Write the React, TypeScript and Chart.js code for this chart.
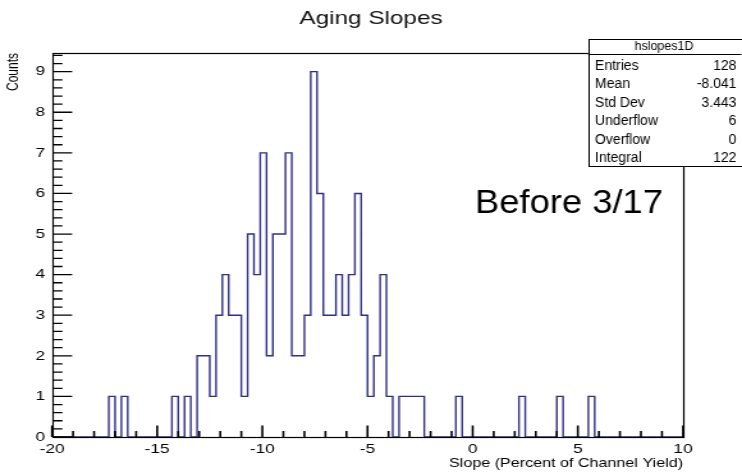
import React, { useEffect, useRef } from "react";
import { Chart, registerables } from "chart.js";

Chart.register(...registerables);

// ---- data ----
const X_MIN = -20;
const X_MAX = 10;
const BIN_WIDTH = 0.3;
// 100 bins of 0.3 from -20 to 10
const binCounts = [
  0, 0, 0, 0, 0, 0, 0, 0, 0, 1,
  0, 1, 0, 0, 0, 0, 0, 0, 0, 1,
  0, 1, 0, 2, 2, 1, 3, 4, 3, 3,
  1, 5, 4, 7, 2, 5, 5, 7, 2, 2,
  3, 9, 6, 3, 3, 4, 3, 4, 6, 3,
  1, 2, 4, 1, 0, 1, 1, 1, 1, 0,
  0, 0, 0, 0, 1, 0, 0, 0, 0, 0,
  0, 0, 0, 0, 1, 0, 0, 0, 0, 0,
  1, 0, 0, 0, 0, 1, 0, 0, 0, 0,
  0, 0, 0, 0, 0, 0, 0, 0, 0, 0,
];
const Y_MAX = 9.46;
const X_LABEL_STEP = 5;
const X_MINOR_STEP = 1;
const Y_LABEL_STEP = 1;
const Y_MINOR_STEP = 0.2;
const chartTitle = "Aging Slopes";
const xTitle = "Slope (Percent of Channel Yield)";
const yTitle = "Counts";
const annotation = "Before 3/17";
const statsTitle = "hslopes1D";
const statsLabels = ["Entries", "Mean", "Std Dev", "Underflow", "Overflow", "Integral"];
const statsValues = ["128", "-8.041", "3.443", "6", "0", "122"];

// ---- presentation ----
const FONT = "'Liberation Sans', Arial, Helvetica, sans-serif";
const CSS_W = 742;
const CSS_H = 472;
const BMP_W = 580;
const S = CSS_W / BMP_W; // horizontal stretch of the original ROOT picture
const LINE_COLOR = "#2f2f88";
const X_MAJOR_LEN = 11.5;
const X_MINOR_LEN = 6;
const Y_MAJOR_LEN = 15.4;
const Y_MINOR_LEN = 7.8;

const isMultiple = (v: number, step: number) => Math.abs(v / step - Math.round(v / step)) < 1e-6;

function drawText(
  ctx: CanvasRenderingContext2D,
  text: string,
  xCss: number,
  y: number,
  font: string,
  align: CanvasTextAlign,
  baseline: CanvasTextBaseline,
  cssScaleX: number
) {
  ctx.save();
  ctx.translate(xCss / S, y);
  ctx.scale(cssScaleX / S, 1);
  ctx.font = font;
  ctx.textAlign = align;
  ctx.textBaseline = baseline;
  ctx.fillStyle = "#000";
  ctx.fillText(text, 0, 0);
  ctx.restore();
}

const rootDecor = {
  id: "rootDecor",
  afterDraw(chart: any) {
    const ctx: CanvasRenderingContext2D = chart.ctx;
    const a = chart.chartArea;
    const xs = chart.scales.x;
    const ys = chart.scales.y;
    const L = Math.round(a.left);
    const R = Math.round(a.right);
    const T = Math.round(a.top);
    const B = Math.round(a.bottom);
    ctx.save();
    ctx.setLineDash([]);
    ctx.strokeStyle = "#000";

    // inner tick marks, positioned by the scales
    ctx.lineWidth = 1.6;
    ctx.beginPath();
    const nx = Math.round((X_MAX - X_MIN) / X_MINOR_STEP);
    for (let i = 0; i <= nx; i++) {
      const v = X_MIN + i * X_MINOR_STEP;
      const px = xs.getPixelForValue(v);
      const len = isMultiple(v, X_LABEL_STEP) ? X_MAJOR_LEN : X_MINOR_LEN;
      ctx.moveTo(px, B);
      ctx.lineTo(px, B - len);
    }
    ctx.stroke();
    ctx.lineWidth = 1.3;
    ctx.beginPath();
    const ny = Math.floor(Y_MAX / Y_MINOR_STEP + 1e-6);
    for (let i = 0; i <= ny; i++) {
      const v = i * Y_MINOR_STEP;
      const py = ys.getPixelForValue(v);
      const len = isMultiple(v, Y_LABEL_STEP) ? Y_MAJOR_LEN : Y_MINOR_LEN;
      ctx.moveTo(L, py);
      ctx.lineTo(L + len, py);
    }
    ctx.stroke();

    ctx.lineWidth = 1.2;
    ctx.strokeRect(L + 0.5, T + 0.5, R - L, B - T);

    // stats box
    const bx0 = 588.3 / S;
    const bx1 = 741.4 / S;
    const by0 = 39.5;
    const by1 = 166.5;
    ctx.fillStyle = "#fff";
    ctx.fillRect(bx0, by0, bx1 - bx0, by1 - by0);
    ctx.lineWidth = 1;
    ctx.strokeRect(Math.round(bx0) + 0.5, by0, Math.round(bx1) - Math.round(bx0), by1 - by0);
    ctx.beginPath();
    ctx.moveTo(bx0, 54.5);
    ctx.lineTo(bx1, 54.5);
    ctx.stroke();
    ctx.restore();

    drawText(ctx, statsTitle, 664, 47, `12.5px ${FONT}`, "center", "middle", 1);
    statsLabels.forEach((lab, i) => {
      const yy = 65.8 + i * 18.5;
      drawText(ctx, lab, 595, yy, `14px ${FONT}`, "left", "middle", 1);
      drawText(ctx, statsValues[i], 736.5, yy, `14px ${FONT}`, "right", "middle", 1);
    });

    drawText(ctx, annotation, 475, 213.3, `34px ${FONT}`, "left", "alphabetic", 1.069);
  },
};

export default function App() {
  const ref = useRef<HTMLCanvasElement | null>(null);

  useEffect(() => {
    document.body.style.margin = "0";
    const canvas = ref.current;
    if (!canvas) return;
    const histPoints = binCounts.map((c, i) => ({ x: X_MIN + i * BIN_WIDTH, y: c }));
    histPoints.push({ x: X_MAX, y: binCounts[binCounts.length - 1] });

    const chart = new Chart(canvas, {
      type: "line",
      data: {
        datasets: [
          {
            data: histPoints,
            stepped: "before",
            borderColor: LINE_COLOR,
            borderWidth: 1.4,
            pointRadius: 0,
            fill: false,
            tension: 0,
          } as any,
        ],
      },
      options: {
        responsive: false,
        animation: false,
        devicePixelRatio: 1,
        layout: { padding: 0 },
        events: [],
        plugins: {
          legend: { display: false },
          tooltip: { enabled: false },
          title: {
            display: true,
            text: chartTitle,
            color: "#111",
            font: { family: FONT, size: 19, weight: "normal" as any },
            padding: { top: 7.3, bottom: 22.9 },
          },
        },
        scales: {
          x: {
            type: "linear",
            position: "bottom",
            min: X_MIN,
            max: X_MAX,
            grid: { display: false, drawTicks: false },
            border: { display: false },
            ticks: {
              stepSize: X_LABEL_STEP,
              autoSkip: false,
              maxRotation: 0,
              minRotation: 0,
              padding: 4.2,
              color: "#000",
              font: { family: FONT, size: 13.5 },
              callback: (v: any) => String(v),
            },
            title: {
              display: true,
              text: xTitle,
              align: "end",
              color: "#000",
              font: { family: FONT, size: 12.6 },
              padding: { top: 0, bottom: 0.5 },
            },
            afterFit: (s: any) => {
              s.height = CSS_H - 437;
            },
          },
          y: {
            type: "linear",
            position: "left",
            min: 0,
            max: Y_MAX,
            grid: { display: false, drawTicks: false },
            border: { display: false },
            ticks: {
              stepSize: Y_LABEL_STEP,
              includeBounds: false,
              padding: 5.5,
              color: "#000",
              font: { family: FONT, size: 13.5 },
              callback: (v: any) => (Number.isInteger(v) ? String(v) : ""),
            },
            title: {
              display: true,
              text: yTitle,
              align: "end",
              color: "#000",
              font: { family: FONT, size: 12 },
              padding: { top: 3.5, bottom: 0 },
            },
            afterFit: (s: any) => {
              s.width = 52 / S;
            },
          },
          yR: {
            type: "linear",
            position: "right",
            display: true,
            grid: { display: false, drawTicks: false },
            border: { display: false },
            ticks: { display: false },
            afterFit: (s: any) => {
              s.width = BMP_W - 683 / S;
            },
          },
        },
      } as any,
      plugins: [rootDecor],
    });
    return () => chart.destroy();
  }, []);

  return (
    <div style={{ position: "absolute", left: 0, top: 0, width: CSS_W, height: CSS_H, background: "#fff" }}>
      <canvas
        ref={ref}
        width={BMP_W}
        height={CSS_H}
        style={{ width: `${CSS_W}px`, height: `${CSS_H}px`, display: "block" }}
      />
    </div>
  );
}
